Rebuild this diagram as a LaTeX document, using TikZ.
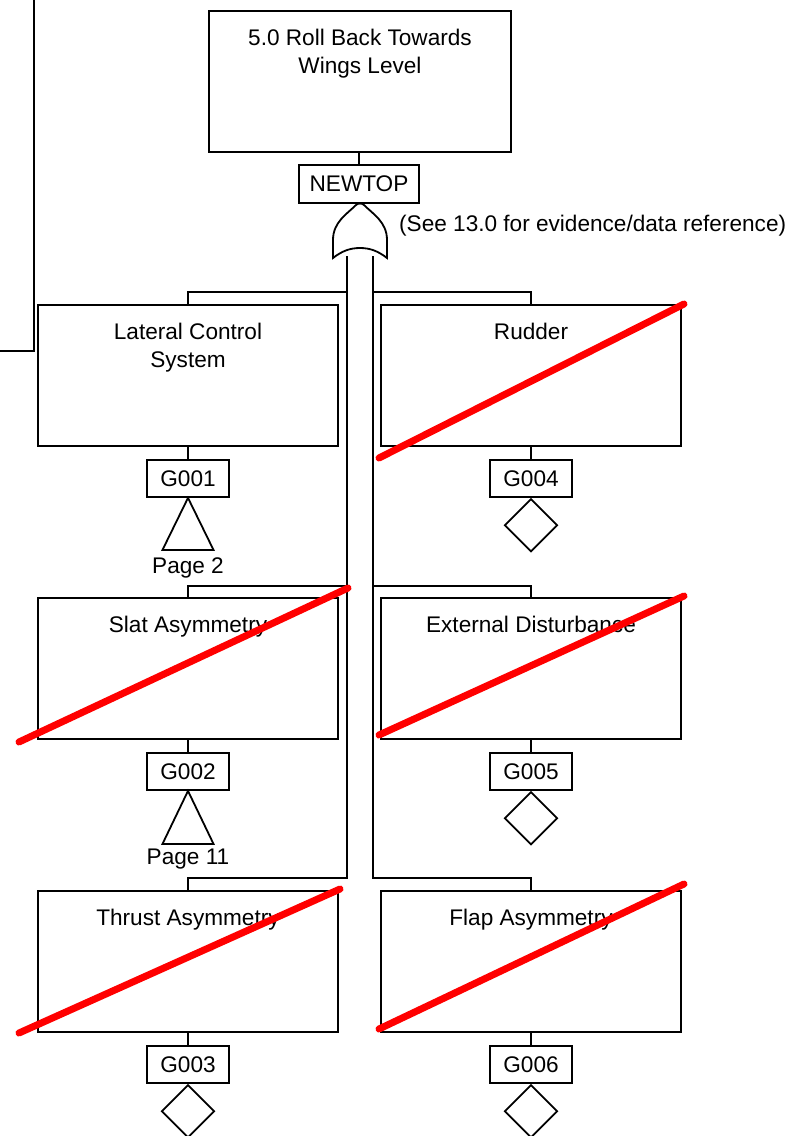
\documentclass[tikz,border=0pt]{standalone}
\usepackage{fontspec}
\setmainfont{Liberation Sans}
\usetikzlibrary{shapes.geometric}
\begin{document}
\begin{tikzpicture}[x=1pt,y=-1pt,
  every node/.style={font=\fontsize{22.6}{27.5}\selectfont},
  wire/.style={draw=black,line width=1.8pt,line join=miter},
  eventbox/.style={draw=black,line width=1.8pt,rectangle,minimum width=300pt,minimum height=141pt,inner sep=0pt},
  gatebox/.style={draw=black,line width=1.8pt,rectangle,minimum width=82pt,minimum height=37pt,inner sep=0pt},
  boxtext/.style={anchor=north,align=center,inner sep=0pt,yshift=-19pt},
  undev/.style={draw=black,line width=1.8pt,diamond,minimum width=53pt,minimum height=53pt,inner sep=0pt,anchor=north},
  strike/.style={draw=red,line width=7pt,line cap=round}]
\useasboundingbox (0,0) rectangle (793,1136);

% top event and its gate label
\node[eventbox,minimum width=302pt] (top) at (360,81.5) {};
\node[boxtext] at (top.north) {5.0 Roll Back Towards\\Wings Level};
\node[gatebox,minimum width=120pt,minimum height=38pt] (newtop) at (359,184) {NEWTOP};
\draw[wire] (top.south) -- (newtop.south |- top.south) -- (newtop.north);
\node[anchor=base west,inner sep=0pt] (note) at (399,231.5) {(See 13.0 for evidence/data reference)};

% off-page connector line at the upper left
\coordinate (offTop) at (34,0);
\coordinate (offLeft) at (0,351);
\draw[wire] (offTop) |- (offLeft);

% intermediate events
\node[eventbox] (lcs)  at (188,375.5) {};
\node[eventbox] (rud)  at (531,375.5) {};
\node[eventbox] (slat) at (188,668.5) {};
\node[eventbox] (ext)  at (531,668.5) {};
\node[eventbox] (thr)  at (188,961.5) {};
\node[eventbox] (flap) at (531,961.5) {};
\node[boxtext] at (lcs.north)  {Lateral Control\\System};
\node[boxtext] at (rud.north)  {Rudder};
\node[boxtext] at (slat.north) {Slat Asymmetry};
\node[boxtext] at (ext.north)  {External Disturbance};
\node[boxtext] at (thr.north)  {Thrust Asymmetry};
\node[boxtext] at (flap.north) {Flap Asymmetry};

% gate labels
\node[gatebox] (g1) at (188,478.5)  {G001};
\node[gatebox] (g4) at (531,478.5)  {G004};
\node[gatebox] (g2) at (188,771.5)  {G002};
\node[gatebox] (g5) at (531,771.5)  {G005};
\node[gatebox] (g3) at (188,1064.5) {G003};
\node[gatebox] (g6) at (531,1064.5) {G006};
\foreach \e/\g in {lcs/g1,rud/g4,slat/g2,ext/g5,thr/g3,flap/g6}
  \draw[wire] (\e.south) -- (\g.north);

% transfer triangles
\draw[wire] (g1.south) -- ++(-25.5,52) -- ++(51,0) -- cycle;
\draw[wire] (g2.south) -- ++(-25.5,53) -- ++(51,0) -- cycle;
\node[inner sep=0pt,anchor=base] (p2)  at (188,573) {Page 2};
\node[inner sep=0pt,anchor=base] (p11) at (188,864) {Page 11};

% undeveloped events
\node[undev] (d4) at (g4.south) {};
\node[undev] (d5) at (g5.south) {};
\node[undev] (d3) at (g3.south) {};
\node[undev] (d6) at (g6.south) {};

% OR gate trunks and branch buses
\coordinate (tl) at (347,256);
\coordinate (tr) at (373,256);
\coordinate (busA) at (0,292);
\coordinate (busB) at (0,586);
\coordinate (busC) at (0,878);
\draw[wire] (tl) -- (tl |- busC) -| (thr.north);
\draw[wire] (tl |- busA) -| (lcs.north);
\draw[wire] (tl |- busB) -| (slat.north);
\draw[wire] (tr) -- (tr |- busC) -| (flap.north);
\draw[wire] (tr |- busA) -| (rud.north);
\draw[wire] (tr |- busB) -| (ext.north);

% OR gate symbol
\draw[wire,fill=white] (333,258) -- (333,240)
  .. controls (333,222) and (347,214) .. (356,205)
  .. controls (358,203) and (362,203) .. (364,205)
  .. controls (373,214) and (387,222) .. (387,240)
  -- (387,258)
  .. controls (378,251) and (370,248) .. (360,248)
  .. controls (350,248) and (342,251) .. (333,258) -- cycle;

% struck-out branches
\draw[strike] (379,458) -- (684,304);
\draw[strike] (19,742) -- (348,588);
\draw[strike] (379,735) -- (684,596);
\draw[strike] (19,1033) -- (340,889);
\draw[strike] (379,1029) -- (684,884);
\end{tikzpicture}
\end{document}
